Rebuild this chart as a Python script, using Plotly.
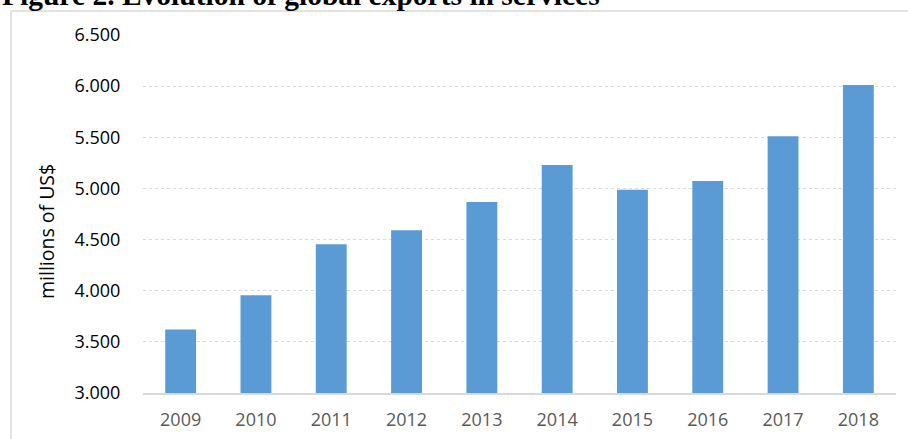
import plotly.graph_objects as go

# Global exports in services, millions of US$
years = ["2009", "2010", "2011", "2012", "2013", "2014", "2015", "2016", "2017", "2018"]
exports = [3620, 3956, 4455, 4592, 4867, 5229, 4987, 5072, 5510, 6010]

y_tick_values = [3000, 3500, 4000, 4500, 5000, 5500, 6000, 6500]
y_tick_labels = ["3.000", "3.500", "4.000", "4.500", "5.000", "5.500", "6.000", "6.500"]

W, H = 908, 439
L, R, T, B = 143, 12, 35, 46
pw, ph = W - L - R, H - T - B


def px_x(x):
    return (x - L) / pw


def px_y(y):
    return (H - B - y) / ph


fig = go.Figure(
    go.Bar(
        x=years,
        y=exports,
        marker=dict(color="#5b9bd5", line=dict(width=0)),
        hoverinfo="x+y",
    )
)

fig.update_layout(
    width=W,
    height=H,
    margin=dict(l=L, r=R, t=T, b=B, pad=0, autoexpand=False),
    paper_bgcolor="white",
    plot_bgcolor="white",
    bargap=0.59,
    showlegend=False,
    font=dict(family="Open Sans", size=18, color="#000000"),
)

fig.update_xaxes(
    type="category",
    automargin=False,
    showline=True,
    linecolor="#d9d9d9",
    linewidth=1.5,
    showgrid=False,
    ticks="outside",
    ticklen=10,
    tickcolor="rgba(0,0,0,0)",
    tickfont=dict(family="Open Sans", size=18, color="#595959"),
)

fig.update_yaxes(
    range=[3000, 6500],
    automargin=False,
    tickvals=y_tick_values,
    ticktext=y_tick_labels,
    showgrid=True,
    gridcolor="#d9d9d9",
    gridwidth=1,
    griddash="dot",
    zeroline=False,
    showline=False,
    ticks="outside",
    ticklen=18,
    tickcolor="rgba(0,0,0,0)",
    tickfont=dict(family="Open Sans", size=18, color="#000000"),
)

# Frame around the chart (left and top edges)
fig.add_shape(type="line", xref="paper", yref="paper",
              x0=px_x(11), x1=px_x(W + 5), y0=px_y(11), y1=px_y(11),
              line=dict(color="#d9d9d9", width=1.5))
fig.add_shape(type="line", xref="paper", yref="paper",
              x0=px_x(11), x1=px_x(11), y0=px_y(11), y1=px_y(H + 5),
              line=dict(color="#d9d9d9", width=1.5))

# Axis title
fig.add_annotation(
    text="millions of US$",
    xref="paper", yref="paper",
    x=px_x(46), y=px_y(232),
    xanchor="center", yanchor="middle",
    textangle=-90,
    showarrow=False,
    font=dict(family="Open Sans", size=19.5, color="#000000"),
)

# Figure caption above the frame
fig.add_annotation(
    text="<b>Figure 2. Evolution of global exports in services</b>",
    xref="paper", yref="paper",
    x=px_x(0), y=px_y(13),
    xanchor="left", yanchor="bottom",
    showarrow=False,
    font=dict(family="Liberation Serif", size=29.5, color="#000000"),
)

fig.write_html("out.html")
